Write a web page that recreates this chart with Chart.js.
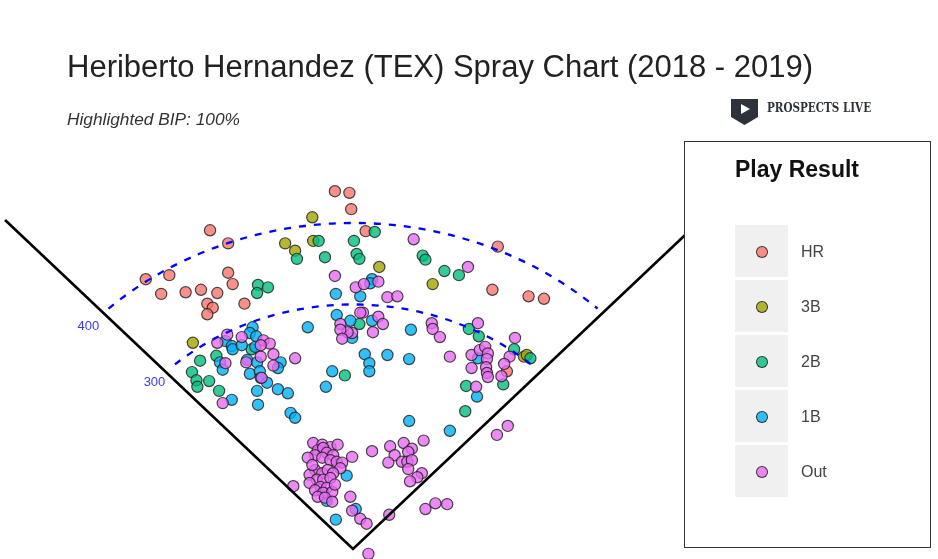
<!DOCTYPE html>
<html>
<head>
<meta charset="utf-8">
<title>Spray Chart</title>
<script src="https://cdn.jsdelivr.net/npm/chart.js@4.4.1/dist/chart.umd.min.js"></script>
<style>
  html, body { margin: 0; padding: 0; background: #fff; }
  #wrap { position: relative; width: 938px; height: 559px; overflow: hidden;
          font-family: "Liberation Sans", Arial, sans-serif; }
  #spray { position: absolute; left: 0; top: 0; }
  #title { position: absolute; left: 67px; top: 51px; font-size: 31px; line-height: 1;
           color: #222; white-space: nowrap; }
  #subtitle { position: absolute; left: 67px; top: 111px; font-size: 17.3px; line-height: 1;
              font-style: italic; color: #333; white-space: nowrap; }
  #logo { position: absolute; left: 731px; top: 99px; }
  #logoText { position: absolute; left: 767px; top: 101px; font-family: "DejaVu Serif Condensed", "DejaVu Serif", serif;
              font-weight: bold; font-size: 13px; line-height: 1; color: #2d333b; white-space: nowrap;
              transform-origin: left top; }
  #legend { position: absolute; left: 684px; top: 141px; width: 245px; height: 405px;
            border: 1px solid #333; background: #fff; }
  #legend .lg-title { position: absolute; left: 50px; top: 16px; font-size: 23px; font-weight: bold;
                      line-height: 1; color: #111; white-space: nowrap; }
  #legend .swatch { position: absolute; left: 50px; width: 53px; height: 52px; background: #f0f0f0; }
  #legend .dot { position: absolute; left: 21px; top: 21px; width: 10px; height: 10px; border-radius: 50%;
                 border: 1px solid rgba(30,30,30,0.85); }
  #legend .label { position: absolute; left: 116px; font-size: 16px; line-height: 1; color: #444; }
</style>
</head>
<body>
<div id="wrap">
  <canvas id="spray" width="938" height="559"></canvas>
  <div id="title">Heriberto Hernandez (TEX) Spray Chart (2018 - 2019)</div>
  <div id="subtitle">Highlighted BIP: 100%</div>
  <svg id="logo" width="27" height="26" viewBox="0 0 27 26">
    <path d="M0 0 H27 V18 L13.5 26 L0 18 Z" fill="#2d333b"/>
    <path d="M10 5 L19 10 L10 15 Z" fill="#fff"/>
  </svg>
  <div id="logoText">PROSPECTS LIVE</div>
  <div id="legend"><div class="lg-title">Play Result</div></div>
</div>
<script>
// categories and their colours (ggplot hue palette)
const categories = ['HR', '3B', '2B', '1B', 'Out'];
const catColors = ['248,118,109', '163,165,0', '0,191,125', '0,176,246', '231,107,243'];

// batted balls: [x, y] in feet from home plate (x = toward 1B side)
const hrPoints = [[-20,439],[-4,437],[-2,417],[14,390],[160,371],[154,318],[194,310],[211,307],
  [-158,391],[-138,375],[-229,331],[-203,336],[-212,313],[-185,315],[-168,318],[-150,314],
  [-138,339],[-133,325],[-161,301],[-155,296],[-161,288],[-120,301],[170,218]];

const tripPoints = [[-45,407],[-75,375],[-64,366],[-44,378],[29,346],[88,325],[-177,253],[189,236],[192,238]];

const dblPoints = [[-62,356],[-38,378],[-105,324],[-94,321],[-106,314],[1,378],[24,389],[-31,358],
  [4,362],[7,356],[77,360],[80,355],[101,341],[117,336],[128,270],[139,261],[178,245],[166,202],
  [125,200],[124,169],[7,276],[-169,231],[-151,237],[-178,217],[-173,207],[-172,199],[-159,206],
  [-148,194],[-112,245],[-9,213],[196,234]];

const sglPoints = [[21,331],[19,326],[-19,313],[8,310],[-18,287],[-3,280],[21,280],[-50,272],
  [64,269],[13,239],[38,238],[62,233],[18,228],[18,218],[138,234],[137,187],[62,157],[107,145],
  [-1,259],[-111,272],[-114,265],[-107,261],[-141,255],[-134,249],[-133,245],[-123,250],[-108,248],
  [-147,229],[-144,220],[-117,232],[-106,229],[-114,215],[-103,218],[-102,210],[-95,204],[-80,229],
  [-83,222],[-83,196],[-72,191],[-106,194],[-134,183],[-105,177],[-69,167],[-64,161],[-23,218],
  [-30,199],[-7,90],[-29,59],[3,49],[-19,36]];

const outPoints = [[67,380],[-20,335],[3,321],[12,325],[28,328],[38,309],[49,310],[127,346],
  [11,290],[28,285],[33,276],[-14,276],[87,277],[88,270],[96,260],[138,277],[22,266],[-1,265],
  [-6,266],[-14,269],[-12,258],[8,290],
  [179,259],[173,236],[167,227],[164,212],[107,236],[131,238],[140,244],[146,248],[149,240],
  [148,233],[147,223],[148,216],[149,211],[131,222],[136,199],[171,151],[159,140],
  [-139,263],[-150,253],[-123,260],[-99,256],[-92,252],[-102,250],[-141,228],[-118,229],
  [-102,236],[-88,239],[-88,225],[-101,210],[-64,234],[-144,179],
  [-44,130],[-34,128],[-25,125],[-17,128],[-39,121],[-33,124],[-29,118],[-22,115],[-42,115],
  [-34,112],[-25,109],[-18,107],[-12,106],[-1,113],[-14,99],[-42,97],[-48,91],[-34,93],[-28,97],
  [-22,93],[-40,85],[-33,85],[-25,87],[-48,81],[-36,76],[-29,75],[-42,72],[-33,69],[-23,70],
  [-39,64],[-31,63],[-66,77],[-3,64],[-23,58],[-50,112],[-20,79],[-45,103],
  [21,120],[-1,47],[8,37],[15,31],[17,-6],[41,126],[56,130],[78,133],[65,123],[61,119],[46,115],
  [54,107],[60,107],[65,109],[39,106],[61,98],[76,93],[71,88],[63,83],[40,42],[80,49],[91,56],[104,55]];

// foul lines: left corner, home plate, right corner
const foulLine = [[-384.5,403.7],[0,0],[384.5,403.7]];

// distance arcs (feet) and the angles they span
const arcRadii = [300, 400];
const arcStartDeg = [47.5, 47.5];
const arcEndDeg = [131, 132.5];
const arcLabelDeg = 137;

const seriesPoints = [hrPoints, tripPoints, dblPoints, sglPoints, outPoints];
const toXY = pts => pts.map(p => ({ x: p[0], y: p[1] }));

const fieldArcs = {
  id: 'fieldArcs',
  afterDatasetsDraw(chart) {
    const { ctx, scales: { x, y } } = chart;
    const cx = x.getPixelForValue(0);
    const cy = y.getPixelForValue(0);
    ctx.save();
    ctx.strokeStyle = '#0000ff';
    ctx.lineWidth = 2.3;
    ctx.setLineDash([7, 8]);
    arcRadii.forEach((r, i) => {
      const rx = x.getPixelForValue(r) - cx;
      const ry = cy - y.getPixelForValue(r);
      ctx.beginPath();
      ctx.ellipse(cx, cy, rx, ry, 0, -arcEndDeg[i] * Math.PI / 180, -arcStartDeg[i] * Math.PI / 180);
      ctx.stroke();
    });
    ctx.setLineDash([]);
    ctx.fillStyle = '#3a3aff';
    ctx.font = '13px "Liberation Sans", Arial, sans-serif';
    ctx.textAlign = 'center';
    ctx.textBaseline = 'middle';
    const a = arcLabelDeg * Math.PI / 180;
    arcRadii.forEach(r => {
      ctx.fillText(String(r), x.getPixelForValue(r * Math.cos(a)), y.getPixelForValue(r * Math.sin(a)));
    });
    ctx.restore();
  }
};

const datasets = [{
  type: 'line',
  data: toXY(foulLine),
  showLine: true,
  borderColor: '#000',
  borderWidth: 2.6,
  pointRadius: 0,
  order: 0
}];
seriesPoints.forEach((pts, i) => {
  datasets.push({
    label: categories[i],
    data: toXY(pts),
    backgroundColor: `rgba(${catColors[i]},0.8)`,
    borderColor: 'rgba(30,30,30,0.8)',
    borderWidth: 1.2,
    pointRadius: 5.6,
    order: categories.length - i
  });
});

new Chart(document.getElementById('spray'), {
  type: 'scatter',
  data: { datasets },
  options: {
    responsive: false,
    animation: false,
    events: [],
    layout: { padding: 0, autoPadding: false },
    scales: {
      x: { type: 'linear', min: -390.1, max: 646.4, display: false },
      y: { type: 'linear', min: -12.3, max: 673.6, display: false }
    },
    plugins: { legend: { display: false }, tooltip: { enabled: false } }
  },
  plugins: [fieldArcs]
});

// legend box
const legend = document.getElementById('legend');
categories.forEach((c, i) => {
  const sw = document.createElement('div');
  sw.className = 'swatch';
  sw.style.top = (83 + i * 55) + 'px';
  const dot = document.createElement('div');
  dot.className = 'dot';
  dot.style.background = `rgba(${catColors[i]},0.8)`;
  sw.appendChild(dot);
  legend.appendChild(sw);
  const lb = document.createElement('div');
  lb.className = 'label';
  lb.style.top = (83 + i * 55 + 19) + 'px';
  lb.textContent = c;
  legend.appendChild(lb);
});

// squeeze the logo text to its box width
const lt = document.getElementById('logoText');
lt.style.transform = `scale(${104 / lt.offsetWidth}, 1)`;
</script>
</body>
</html>
